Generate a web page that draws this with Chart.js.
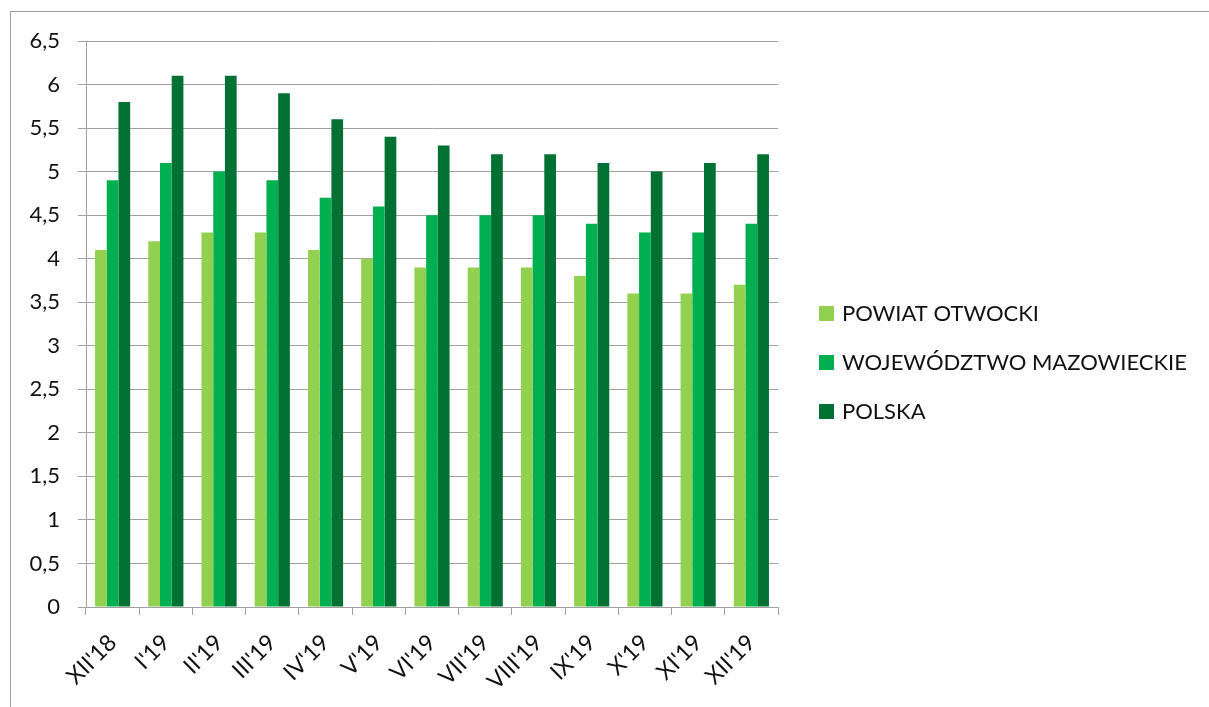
<!DOCTYPE html>
<html>
<head>
<meta charset="utf-8">
<script src="https://cdn.jsdelivr.net/npm/chart.js@4"></script>
<style>
  html, body { margin: 0; padding: 0; background: #fff; }
  #wrap { position: relative; width: 1209px; height: 707px; overflow: hidden; }
  #frame { position: absolute; left: 10px; top: 11px; width: 1300px; height: 800px; border: 1px solid #a0a0a0; }
  canvas { position: absolute; left: 0; top: 0; }
</style>
</head>
<body>
<div id="wrap">
  <div id="frame"></div>
  <canvas id="c" width="1209" height="707"></canvas>
</div>
<script>
const FONT = "Lato, 'Open Sans', sans-serif";

const months = ["XII'18", "I'19", "II'19", "III'19", "IV'19", "V'19", "VI'19",
  "VII'19", "VIII'19", "IX'19", "X'19", "XI'19", "XII'19"];
const powiat = [4.1, 4.2, 4.3, 4.3, 4.1, 4.0, 3.9, 3.9, 3.9, 3.8, 3.6, 3.6, 3.7];
const wojewodztwo = [4.9, 5.1, 5.0, 4.9, 4.7, 4.6, 4.5, 4.5, 4.5, 4.4, 4.3, 4.3, 4.4];
const polska = [5.8, 6.1, 6.1, 5.9, 5.6, 5.4, 5.3, 5.2, 5.2, 5.1, 5.0, 5.1, 5.2];

// legend drawn by hand so the plot area keeps its place
const sideLegend = {
  id: "sideLegend",
  afterDraw(chart) {
    const ctx = chart.ctx;
    ctx.save();
    ctx.font = "22px " + FONT;
    ctx.textBaseline = "middle";
    chart.data.datasets.forEach((ds, i) => {
      const y = 313 + i * 49;
      ctx.fillStyle = ds.backgroundColor;
      ctx.fillRect(819, y - 7, 15, 15);
      ctx.fillStyle = "#111";
      ctx.fillText(ds.label, 842, y + 1);
    });
    ctx.restore();
  },
};

new Chart(document.getElementById("c"), {
  type: "bar",
  data: {
    labels: months,
    datasets: [
      { label: "POWIAT OTWOCKI", data: powiat, backgroundColor: "#92d050" },
      { label: "WOJEWÓDZTWO MAZOWIECKIE", data: wojewodztwo, backgroundColor: "#00b050" },
      { label: "POLSKA", data: polska, backgroundColor: "#007033" },
    ],
  },
  options: {
    responsive: false,
    animation: false,
    categoryPercentage: 0.66,
    barPercentage: 1,
    layout: { padding: { top: 41, right: 431, left: 0, bottom: 0 } },
    plugins: { legend: { display: false }, tooltip: { enabled: false } },
    scales: {
      x: {
        grid: { drawOnChartArea: false, drawTicks: true, tickLength: 8, color: "#a0a0a0" },
        border: { color: "#a0a0a0" },
        ticks: {
          color: "#111",
          font: { family: FONT, size: 23 },
          minRotation: 45,
          maxRotation: 45,
          padding: 14,
        },
        afterFit: (s) => { s.height = 100; },
      },
      y: {
        min: 0,
        max: 6.5,
        grid: { color: "#a0a0a0", tickLength: 8 },
        border: { color: "#a0a0a0" },
        ticks: {
          stepSize: 0.5,
          color: "#111",
          font: { family: FONT, size: 22 },
          padding: 18,
          callback: (v) => String(v).replace(".", ","),
        },
        afterFit: (s) => { s.width = 86; },
      },
    },
  },
  plugins: [sideLegend],
});
</script>
</body>
</html>
